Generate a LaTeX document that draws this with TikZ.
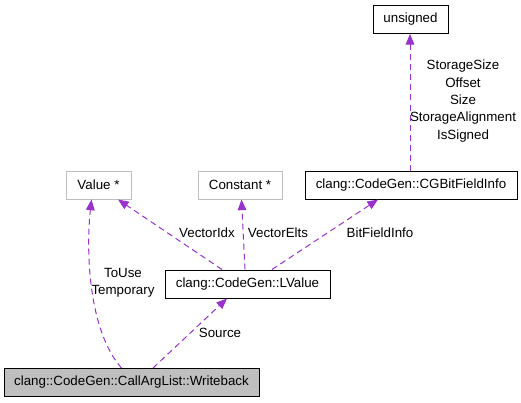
\documentclass[tikz,border=0pt]{standalone}
\usepackage{fontspec}
\setmainfont{Liberation Sans}
\usetikzlibrary{arrows.meta,calc}
\definecolor{edgec}{HTML}{9A32CD}
\definecolor{grayb}{HTML}{BFBFBF}
\begin{document}
\begin{tikzpicture}[x=0.75pt,y=-0.75pt,
  font=\fontsize{10}{13}\selectfont,
  cls/.style={draw=black,line width=0.75pt,inner sep=0pt,minimum height=21pt,align=center},
  ext/.style={draw=grayb,line width=0.75pt,inner sep=0pt,minimum height=21pt,align=center},
  rel/.style={draw=edgec,line width=0.75pt,dash pattern=on 4.5pt off 3pt,
    -{Triangle[length=8pt,width=6.5pt,fill=edgec]}},
  lbl/.style={inner sep=0pt,align=center}]
\useasboundingbox (0,0) rectangle (521,403);
\node[cls,minimum width=56.25pt] (uns) at (410.5,19.5) {unsigned};
\node[cls,minimum width=159pt] (bf) at (411,185) {clang::CodeGen::CGBitFieldInfo};
\node[ext,minimum width=63pt] (const) at (240,185) {Constant *};
\node[ext,minimum width=48.75pt] (val) at (98.5,185) {Value *};
\node[cls,minimum width=123.75pt] (lv) at (247.5,284) {clang::CodeGen::LValue};
\node[cls,fill=grayb,minimum width=191.25pt] (wb) at (131.5,382.5) {clang::CodeGen::CallArgList::Writeback};

\draw[rel] ($(bf.north)+(-1,0)$) -- ($(uns.south)+(-0.5,0)$);
\draw[rel] ($(lv.north)+(-2.5,0)$) -- ($(const.south)+(1.5,0)$);
\draw[rel] ($(lv.north)+(-25.5,0)$) -- ($(val.south)+(19.5,0)$);
\draw[rel] ($(lv.north)+(24.5,0)$) -- ($(bf.south)+(-33,0)$);
\draw[rel] ($(wb.north)+(-10,0)$) .. controls (88,330) and (86,250) .. ($(val.south)+(-7,0)$);
\draw[rel] ($(wb.north)+(21.5,0)$) -- ($(lv.south)+(-20.5,0)$);

\node[lbl] (l1) at (463,101) {StorageSize\\Offset\\Size\\StorageAlignment\\IsSigned};
\node[lbl] (l2) at (207,232.5) {VectorIdx};
\node[lbl] (l3) at (278,232.5) {VectorElts};
\node[lbl] (l4) at (380,232.5) {BitFieldInfo};
\node[lbl] (l5) at (123,283) {ToUse\\Temporary};
\node[lbl] (l6) at (220,333) {Source};
\end{tikzpicture}
\end{document}
